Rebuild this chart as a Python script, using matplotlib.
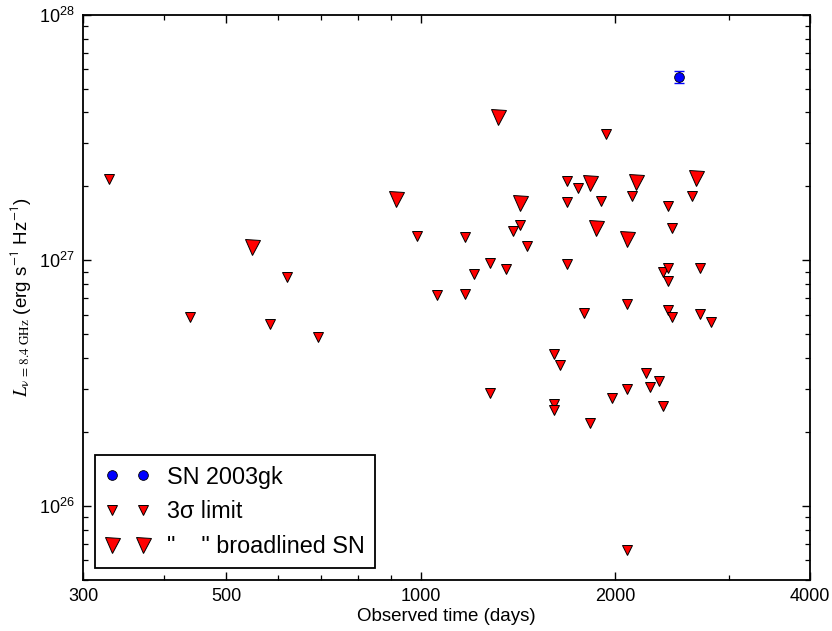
import numpy as np
import matplotlib
matplotlib.use('Agg')
import matplotlib.pyplot as plt
from matplotlib.ticker import FixedLocator, NullFormatter, FixedFormatter

plt.rcParams['font.family'] = ['Liberation Sans', 'DejaVu Sans']
plt.rcParams['mathtext.fontset'] = 'stix'

# 3 sigma upper limits (days, erg/s/Hz)
lim_t = [329, 439, 583, 620, 692, 985, 1058, 1169, 1169, 1207, 1278, 1278,
         1352, 1387, 1422, 1458, 1605, 1605, 1605, 1640, 1681, 1681, 1681,
         1748, 1786, 1824, 1897, 1932, 1973, 2082, 2082, 2082, 2119, 2227,
         2259, 2333, 2366, 2366, 2409, 2409, 2409, 2409, 2443, 2443, 2624,
         2700, 2700, 2808]
lim_L = [2.14e27, 5.86e26, 5.48e26, 8.53e26, 4.85e26, 1.26e27, 7.20e26,
         1.24e27, 7.27e26, 8.77e26, 9.72e26, 2.87e26, 9.19e26, 1.31e27,
         1.39e27, 1.14e27, 4.14e26, 2.59e26, 2.45e26, 3.73e26, 2.10e27,
         1.72e27, 9.63e26, 1.97e27, 6.08e26, 2.17e26, 1.74e27, 3.26e27,
         2.76e26, 6.62e26, 2.98e26, 6.64e25, 1.82e27, 3.46e26, 3.04e26,
         3.21e26, 8.94e26, 2.54e26, 1.66e27, 9.28e26, 8.21e26, 6.26e26,
         1.35e27, 5.86e26, 1.82e27, 9.28e26, 6.03e26, 5.59e26]

# broadlined SN limits
bl_t = [547, 914, 1315, 1422, 1824, 1864, 2082, 2149, 2662]
bl_L = [1.13e27, 1.77e27, 3.83e27, 1.71e27, 2.06e27, 1.35e27, 1.22e27,
        2.08e27, 2.16e27]

# SN 2003gk detection
gk_t = [2505]
gk_L = [5.57e27]
gk_err = [0.31e27]

fig = plt.figure(figsize=(8.32, 6.31), dpi=100)
ax = fig.add_axes([0.0998, 0.0808, 0.8738, 0.8959])

ax.errorbar(gk_t, gk_L, yerr=gk_err, fmt='none', ecolor='blue',
            elinewidth=1.0, capsize=3.6, capthick=1.0)
ax.plot(gk_t, gk_L, 'o', color='blue', mec='black', mew=0.6, ms=7,
        label='SN 2003gk')
ax.plot(lim_t, lim_L, 'v', color='red', mec='black', mew=0.7, ms=7.2,
        ls='none', label='3σ limit')
ax.plot(bl_t, bl_L, 'v', color='red', mec='black', mew=0.7, ms=10.8,
        ls='none', label='"    " broadlined SN')

ax.set_xscale('log')
ax.set_yscale('log')
ax.set_xlim(300, 4000)
ax.set_ylim(10**25.698, 1e28)

ax.xaxis.set_major_locator(FixedLocator([300, 500, 1000, 2000, 4000]))
ax.xaxis.set_major_formatter(FixedFormatter(['300', '500', '1000', '2000', '4000']))
ax.xaxis.set_minor_locator(FixedLocator([400, 600, 700, 800, 900, 3000]))
ax.xaxis.set_minor_formatter(NullFormatter())

ax.tick_params(which='both', direction='in', top=True, right=True,
               labelsize=13, pad=6)
ax.tick_params(which='major', length=6, width=1.0)
ax.tick_params(which='minor', length=3.5, width=0.9)
for s in ax.spines.values():
    s.set_linewidth(1.3)

ax.set_xlabel('Observed time (days)', fontsize=13.5, labelpad=2)
ax.set_ylabel(r'$L_{\mathrm{ν\,=\,8.4\ GHz}}$ (erg s$^{\mathsf{-1}}$ Hz$^{\mathsf{-1}}$)',
              fontsize=13.5, labelpad=4)

leg = ax.legend(loc='lower left', numpoints=2, fontsize=16.8, frameon=True,
                fancybox=False, borderaxespad=0.5, handlelength=1.9,
                handletextpad=0.75, labelspacing=0.5, borderpad=0.45)
leg.get_frame().set_edgecolor('black')
leg.get_frame().set_linewidth(1.3)
leg.get_frame().set_alpha(1)

fig.savefig('out.png', dpi=100)
